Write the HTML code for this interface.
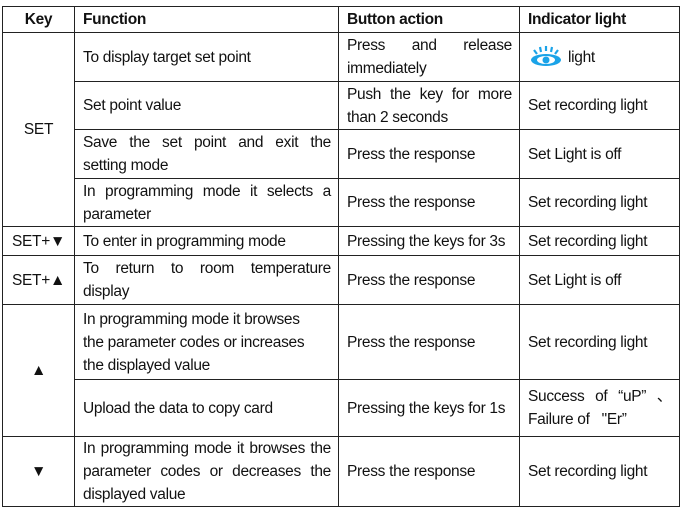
<html><head><style>
body{margin:0;background:#fff;width:683px;height:515px;overflow:hidden}
table{position:absolute;left:2px;top:6px;border-collapse:collapse;font-family:"Liberation Sans",sans-serif;font-size:15.5px;letter-spacing:-0.3px;color:#111;table-layout:fixed;width:677px}
td{border:1.3px solid #222;padding:0 7px 0 8px;line-height:23px;vertical-align:middle;white-space:nowrap;overflow:hidden}
.c{text-align:center;padding:0}
.jl{text-align:justify;text-align-last:justify}
th{border:1.3px solid #222;font-weight:bold;text-align:left;padding:0 8px;height:26px}
</style></head><body>
<table>
<colgroup><col style="width:72px"><col style="width:264px"><col style="width:181px"><col style="width:160px"></colgroup>
<tr><th style="text-align:center;padding:0">Key</th><th>Function</th><th>Button action</th><th>Indicator light</th></tr>
<tr style="height:49px"><td class="c" rowspan="4">SET</td><td>To display target set point</td><td><div class="jl">Press and release</div>immediately</td><td><svg width="36" height="22" viewBox="0 0 36 22" style="vertical-align:middle"><g stroke="#1aa3e8" stroke-width="2.2" fill="none"><line x1="6" y1="4" x2="9" y2="8"/><line x1="12" y1="1" x2="13" y2="6"/><line x1="18" y1="0" x2="18" y2="5"/><line x1="24" y1="1" x2="23" y2="6"/><line x1="30" y1="4" x2="27" y2="8"/></g><ellipse cx="18" cy="14" rx="15" ry="6" fill="#1aa3e8"/><ellipse cx="18" cy="14" rx="9" ry="4" fill="#fff"/><circle cx="18" cy="14" r="3.5" fill="#1aa3e8"/></svg> light</td></tr>
<tr style="height:48px"><td>Set point value</td><td><div class="jl">Push the key for more</div>than 2 seconds</td><td>Set recording light</td></tr>
<tr style="height:49px"><td><div class="jl">Save the set point and exit the</div>setting mode</td><td>Press the response</td><td>Set Light is off</td></tr>
<tr style="height:48px"><td><div class="jl">In programming mode it selects a</div>parameter</td><td>Press the response</td><td>Set recording light</td></tr>
<tr style="height:29px"><td class="c">SET+▼</td><td>To enter in programming mode</td><td>Pressing the keys for 3s</td><td>Set recording light</td></tr>
<tr style="height:49px"><td class="c">SET+▲</td><td><div class="jl">To return to room temperature</div>display</td><td>Press the response</td><td>Set Light is off</td></tr>
<tr style="height:75px"><td class="c" rowspan="2">▲</td><td>In programming mode it browses<br>the parameter codes or increases<br>the displayed value</td><td>Press the response</td><td>Set recording light</td></tr>
<tr style="height:57px"><td>Upload the data to copy card</td><td>Pressing the keys for 1s</td><td><div class="jl">Success of “uP” 、</div>Failure of &nbsp;&nbsp;"Er”</td></tr>
<tr style="height:70px"><td class="c">▼</td><td><div class="jl">In programming mode it browses the</div><div class="jl">parameter codes or decreases the</div>displayed value</td><td>Press the response</td><td>Set recording light</td></tr>
</table>
</body></html>
